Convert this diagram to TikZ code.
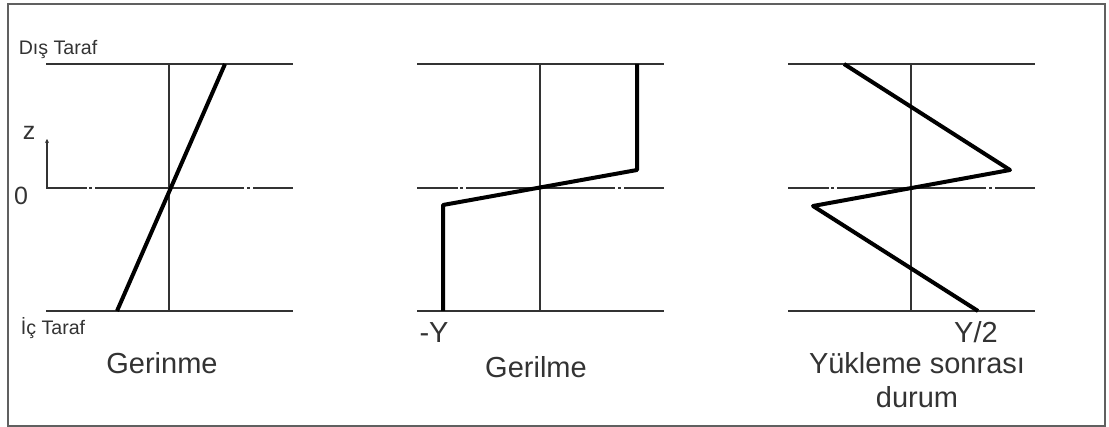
\documentclass[tikz,border=0pt]{standalone}
\usepackage{fontspec}
\setmainfont{Liberation Sans}
\usetikzlibrary{arrows.meta,positioning}

\begin{document}
\begin{tikzpicture}[
  x=0.5pt, y=-0.5pt,
  frame/.style={draw=gray!75!black, line width=1pt},
  guide/.style={draw=black!80, line width=0.7pt},
  midline/.style={draw=black!80, line width=0.7pt, dash pattern=on 20.5pt off 1pt on 1.5pt off 1.5pt on 74.5pt off 1.5pt on 1.5pt off 1.5pt},
  profile/.style={draw=black, line width=2pt, line join=round},
  biglabel/.style={font=\fontsize{14.5}{17}\selectfont, text=black!80, inner sep=0pt, anchor=base},
  axislabel/.style={font=\fontsize{12.5}{15}\selectfont, text=black!80, inner sep=0pt, anchor=base},
  sidelabel/.style={font=\fontsize{9.8}{11}\selectfont, text=black!80, inner sep=0pt, anchor=base}
]
  \useasboundingbox (0,0) rectangle (1109,427);
  \draw[frame] (8,4) rectangle (1105,426);
  % panel grid: top, middle (centre line), bottom and axis
  \foreach \dx in {0,371,742} {
    \draw[guide] (46+\dx,64) -- (293+\dx,64);
    \draw[midline] (46+\dx,188) -- (293+\dx,188);
    \draw[guide] (46+\dx,311) -- (293+\dx,311);
    \draw[guide] (169+\dx,64) -- (169+\dx,311);
  }
  % z axis
  \coordinate (zo) at (47,188);
  \coordinate (zt) at (47,139);
  \draw[guide, -{Stealth[length=2pt,width=2pt]}] (zo) -- (zt);
  % profiles
  \coordinate (g1) at (117,311);\coordinate (g2) at (225,64);
  \coordinate (s1) at (443,311);\coordinate (s2) at (443,205);\coordinate (s3) at (637,170);\coordinate (s4) at (637,64);
  \coordinate (r1) at (844,64);\coordinate (r2) at (1010,170);\coordinate (r3) at (813,206);\coordinate (r4) at (978,311);
  \draw[profile] (g1) -- (g2);
  \draw[profile] (s1) -- (s2) -- (s3) -- (s4);
  \draw[profile] (r1) -- (r2) -- (r3) -- (r4);
  % labels
  \node[sidelabel] (outer) at (58,55) {Dış Taraf};
  \node[sidelabel] (inner) at (53,335) {İç Taraf};
  \node[axislabel] (zlabel) at (29,140) {z};
  \node[axislabel] (zero) at (21,205) {0};
  \node[biglabel] (strain) at (162,373) {Gerinme};
  \node[biglabel] (stress) at (536,378) {Gerilme};
  \node[biglabel] (minY) at (434,343) {-Y};
  \node[biglabel] (halfY) at (976,343) {Y/2};
  \node[biglabel, anchor=north, align=center] (after) at (917,352) {Yükleme sonrası\\durum};
\end{tikzpicture}
\end{document}
